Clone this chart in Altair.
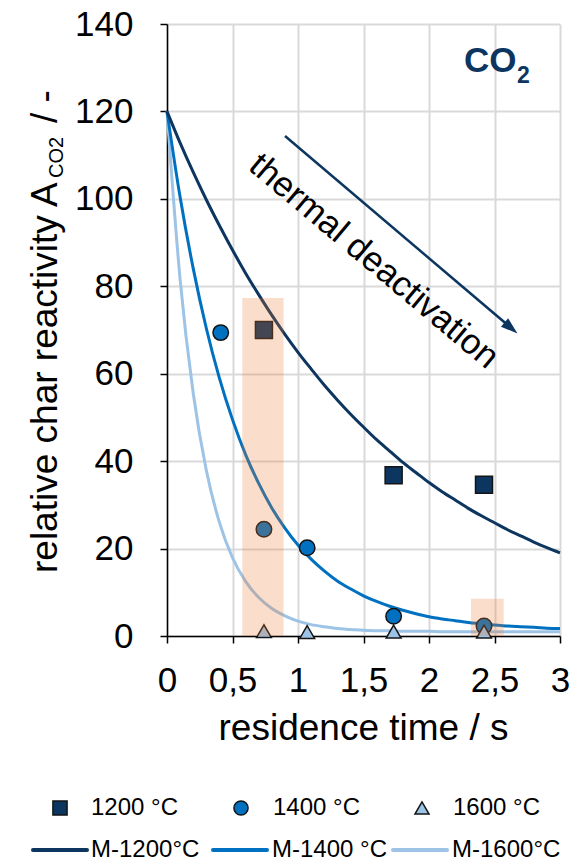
import altair as alt
import pandas as pd

FONT = "Liberation Sans"
NAVY, BLUE, LIGHT = "#0c355f", "#0070c0", "#9dc3e6"
HILITE = "#ed7d31"
EDGE = "#141414"

# ---- measured points (residence time / s, relative reactivity) ----
t_1200 = [0.74, 1.73, 2.42]
a_1200 = [70.0, 36.8, 34.6]
t_1400 = [0.41, 0.74, 1.07, 1.73, 2.42]
a_1400 = [69.4, 24.4, 20.2, 4.5, 2.3]
t_1600 = [0.74, 1.07, 1.73, 2.42]
a_1600 = [1.1, 0.9, 1.0, 1.0]

# ---- model curves ----
t_model = [0.0, 0.1, 0.2, 0.3, 0.4, 0.5, 0.6, 0.7, 0.8, 0.9, 1.0,
           1.1, 1.2, 1.3, 1.4, 1.5, 1.6, 1.7, 1.8, 1.9, 2.0,
           2.1, 2.2, 2.3, 2.4, 2.5, 2.6, 2.7, 2.8, 2.9, 3.0]
m_1200 = [120, 112.8, 106.1, 99.8, 93.9, 88.3, 83.0, 78.1, 73.4, 69.0, 64.9,
          61.1, 57.4, 54.0, 50.8, 47.8, 44.9, 42.3, 39.7, 37.4, 35.1,
          33.0, 31.1, 29.2, 27.5, 25.9, 24.3, 22.9, 21.5, 20.2, 19.0]
m_1400 = [120, 100.4, 84.1, 70.4, 59.0, 49.5, 41.5, 34.9, 29.3, 24.7, 20.8,
          17.6, 14.9, 12.6, 10.8, 9.2, 7.9, 6.8, 5.9, 5.1, 4.4,
          3.9, 3.5, 3.1, 2.8, 2.5, 2.3, 2.1, 2.0, 1.8, 1.7]
m_1600 = [120, 81.6, 55.6, 37.9, 26.0, 17.9, 12.5, 8.8, 6.3, 4.6, 3.4,
          2.6, 2.1, 1.7, 1.5, 1.3, 1.2, 1.2, 1.1, 1.1, 1.1,
          1.0, 1.0, 1.0, 1.0, 1.0, 1.0, 1.0, 1.0, 1.0, 1.0]

# ---- highlighted regions ----
hl_t0 = [0.575, 2.32]
hl_t1 = [0.89, 2.57]
hl_a0 = [0, 0]
hl_a1 = [77.3, 8.5]

x_ticks = [0, 0.5, 1, 1.5, 2, 2.5, 3]
y_ticks = [0, 20, 40, 60, 80, 100, 120, 140]

W, H = 393, 612

xs = alt.Scale(domain=[0, 3], nice=False, zero=False)
ys = alt.Scale(domain=[0, 140], nice=False)

x_axis = alt.Axis(values=x_ticks, title=None,
                  labelExpr="replace(toString(datum.value), '.', ',')",
                  grid=True, gridColor="#d9d9d9", gridWidth=2,
                  domainColor="black", domainWidth=1.5,
                  tickColor="black", tickWidth=1.5, tickSize=7,
                  labelFont=FONT, labelFontSize=35, labelColor="black",
                  labelPadding=20, labelFlush=False, labelOverlap=False)
y_axis = alt.Axis(values=y_ticks, title=None,
                  grid=True, gridColor="#d9d9d9", gridWidth=2,
                  domainColor="black", domainWidth=1.5,
                  tickColor="black", tickWidth=1.5, tickSize=7,
                  labelFont=FONT, labelFontSize=35, labelColor="black",
                  labelPadding=27, labelFlush=False, labelOverlap=False)


def X(f):
    return alt.X(f, type="quantitative", scale=xs, axis=x_axis)


def Y(f):
    return alt.Y(f, type="quantitative", scale=ys, axis=y_axis)


one = pd.DataFrame({"_": [0]})

layers = []

# model lines
for vals, col in [(m_1600, LIGHT), (m_1400, BLUE), (m_1200, NAVY)]:
    df = pd.DataFrame({"t": t_model, "a": vals})
    layers.append(alt.Chart(df).mark_line(color=col, strokeWidth=3, interpolate="monotone")
                  .encode(x=X("t"), y=Y("a")))

# measured points
for ts, vs, shp, col, sz in [(t_1200, a_1200, "square", NAVY, 289),
                             (t_1400, a_1400, "circle", BLUE, 240),
                             (t_1600, a_1600, "triangle-up", LIGHT, 220)]:
    df = pd.DataFrame({"t": ts, "a": vs})
    layers.append(alt.Chart(df).mark_point(shape=shp, filled=True, fill=col, stroke=EDGE,
                                           strokeWidth=1.5, size=sz, opacity=1, fillOpacity=1)
                  .encode(x=X("t"), y=Y("a")))

# highlight overlay
hl = pd.DataFrame({"t0": hl_t0, "t1": hl_t1, "a0": hl_a0, "a1": hl_a1})
layers.append(alt.Chart(hl).mark_rect(color=HILITE, opacity=0.25)
              .encode(x=X("t0"), x2="t1", y=Y("a0"), y2="a1"))


def txt(text, x, y, size, angle=0, align="left", baseline="alphabetic", color="black", weight="normal"):
    return alt.Chart(one).mark_text(text=text, font=FONT, fontSize=size, angle=angle, align=align,
                                    baseline=baseline, color=color, fontWeight=weight).encode(
        x=alt.value(x), y=alt.value(y))


# arrow
layers.append(alt.Chart(one).mark_rule(color=NAVY, strokeWidth=2.5).encode(
    x=alt.value(118), y=alt.value(112), x2=alt.value(343), y2=alt.value(303)))
layers.append(alt.Chart(one).mark_point(shape="M0,-1L0.65,1L-0.65,1Z", filled=True, fill=NAVY,
                                        size=289, angle=130.4, opacity=1, strokeWidth=0).encode(
    x=alt.value(344), y=alt.value(304)))

# annotations
layers.append(txt("thermal deactivation", 207, 237, 35, angle=40, align="center", baseline="middle"))
layers.append(txt("CO", 297, 48, 35, color=NAVY, weight="bold"))
layers.append(txt("2", 350, 59, 23, color=NAVY, weight="bold"))

# axis titles
layers.append(txt("residence time / s", W / 2, 716, 37, align="center"))
layers.append(txt("relative char reactivity A", -110, 549, 37, angle=270))
layers.append(txt("CO2", -104, 154, 20, angle=270))
layers.append(txt("/ -", -110, 99, 37, angle=270))

# legend
leg_pts = [("1200 °C", "square", NAVY, -107, -76),
           ("1400 °C", "circle", BLUE, 74, 106),
           ("1600 °C", "triangle-up", LIGHT, 255, 286)]
for lab, shp, col, mx, tx in leg_pts:
    layers.append(alt.Chart(one).mark_point(shape=shp, filled=True, fill=col, stroke=EDGE,
                                            strokeWidth=1.5, size=200, opacity=1).encode(
        x=alt.value(mx), y=alt.value(784)))
    layers.append(txt(lab, tx, 784, 24, baseline="middle"))

leg_lines = [("M-1200°C", NAVY, -134, -80, -76),
             ("M-1400 °C", BLUE, 46, 100, 105),
             ("M-1600°C", LIGHT, 226, 280, 285)]
for lab, col, x0, x1, tx in leg_lines:
    layers.append(alt.Chart(one).mark_rule(color=col, strokeWidth=4, strokeCap="round").encode(
        x=alt.value(x0), x2=alt.value(x1), y=alt.value(826)))
    layers.append(txt(lab, tx, 826, 24, baseline="middle"))

chart = alt.layer(*layers).properties(
    width=W, height=H,
    autosize=alt.AutoSizeParams(type="none"),
    padding={"left": 167, "top": 24, "right": 17, "bottom": 229},
).configure_view(stroke=None)

chart.save("out.html", embed_options={"renderer": "svg", "actions": False})
